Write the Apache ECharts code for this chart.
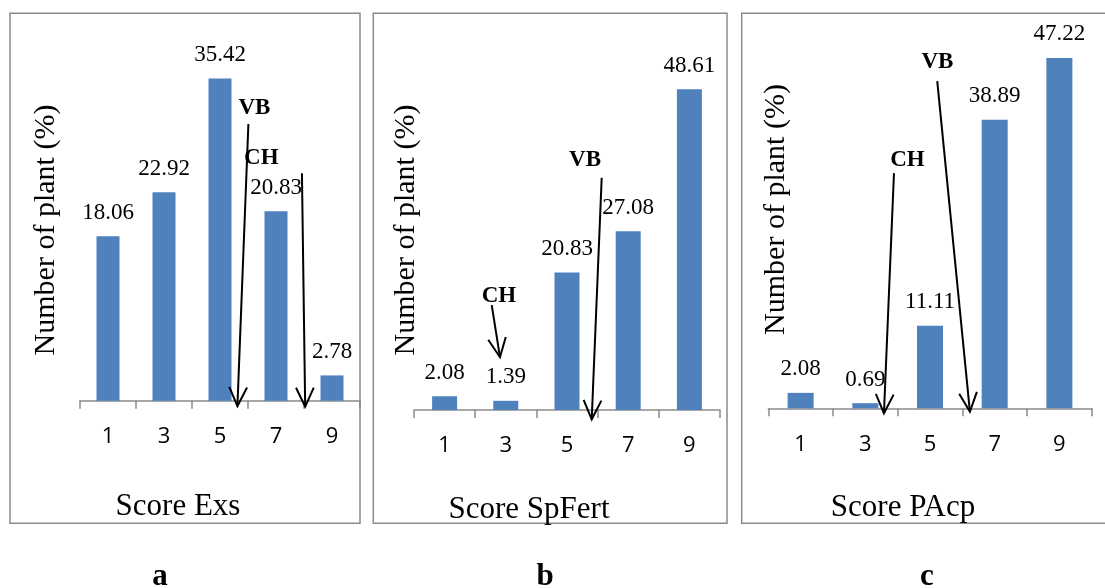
<!DOCTYPE html>
<html><head><meta charset="utf-8">
<script src="https://cdn.jsdelivr.net/npm/echarts@6/dist/echarts.min.js"></script>
<style>html,body{margin:0;padding:0;background:#fff}#c{width:1105px;height:588px}</style>
</head><body><div id="c"></div>
<script>
// ---- data ----
const categories = ['1', '3', '5', '7', '9'];
const exsValues = [18.06, 22.92, 35.42, 20.83, 2.78];
const spFertValues = [2.08, 1.39, 20.83, 27.08, 48.61];
const pAcpValues = [2.08, 0.69, 11.11, 38.89, 47.22];
const panelTitles = ['Score Exs', 'Score SpFert', 'Score PAcp'];
const panelLetters = ['a', 'b', 'c'];
const yTitle = 'Number of plant (%)';
// annotation arrows in data units (x = category index, y = %):
// [fromX, fromY, toX, toY, labelX, labelY]
const annExs = [
  { name: 'VB', value: [2.507, 30.4, 2.311, -0.6, 2.614, 32.2] },
  { name: 'CH', value: [3.463, 25.0, 3.521, -0.66, 2.738, 26.7] }
];
const annSpFert = [
  { name: 'VB', value: [2.567, 35.2, 2.404, -1.41, 2.294, 37.9] },
  { name: 'CH', value: [0.770, 15.9, 0.905, 8.0, 0.889, 17.3] }
];
const annPAcp = [
  { name: 'VB', value: [2.112, 44.1, 2.617, -0.46, 2.115, 46.7] },
  { name: 'CH', value: [1.443, 31.7, 1.288, -0.67, 1.651, 33.4] }
];

// ---- layout / style ----
const seriesValues = [exsValues, spFertValues, pAcpValues];
const annotations = [annExs, annSpFert, annPAcp];
const layout = [
  { left: 80, width: 280, top: 36.7, height: 364, max: 40, barWidth: 23,
    border: [10, 13.3, 350, 510], title: [178, 507], letter: [160, 577], yt: [46, 230] },
  { left: 414, width: 306, top: 80, height: 330, max: 50, barWidth: 25,
    border: [373.3, 13.3, 353.7, 510], title: [529, 510], letter: [545, 577], yt: [406, 230] },
  { left: 768.3, width: 323.4, top: 37.3, height: 371, max: 50, barWidth: 26,
    border: [741.7, 13.3, 400, 510], title: [903, 508], letter: [927, 577], yt: [776, 209.5] }
];
const BAR = '#4F81BD';
const GREY = '#8A8A8A';
const SERIF = '"Liberation Serif", "Times New Roman", serif';
const SANS = '"Open Sans", "Liberation Sans", sans-serif';

function arrowRender(anns) {
  return function (params, api) {
    const p0 = api.coord([api.value(0), api.value(1)]);
    const p1 = api.coord([api.value(2), api.value(3)]);
    const pt = api.coord([api.value(4), api.value(5)]);
    const dx = p1[0] - p0[0], dy = p1[1] - p0[1];
    const len = Math.sqrt(dx * dx + dy * dy);
    const ux = dx / len, uy = dy / len;
    const L = 21, th = 25 * Math.PI / 180;
    const arm = (s) => {
      const c = Math.cos(s * th), sn = Math.sin(s * th);
      const rx = ux * c - uy * sn, ry = ux * sn + uy * c;
      return [p1[0] - L * rx, p1[1] - L * ry];
    };
    const st = { stroke: '#000', lineWidth: 2, fill: null };
    return {
      type: 'group',
      children: [
        { type: 'line', shape: { x1: p0[0], y1: p0[1], x2: p1[0], y2: p1[1] }, style: st },
        { type: 'polyline', shape: { points: [arm(1), p1, arm(-1)] }, style: st },
        { type: 'text', x: pt[0], y: pt[1],
          style: { text: anns[params.dataIndex].name, font: 'bold 23px ' + SERIF, fill: '#000',
                   align: 'center', verticalAlign: 'middle' } }
      ]
    };
  };
}

const grid = [], xAxis = [], yAxis = [], series = [], graphic = [];
layout.forEach((L, i) => {
  grid.push({ left: L.left, top: L.top, width: L.width, height: L.height, containLabel: false });
  xAxis.push({
    type: 'category', gridIndex: i, data: categories,
    axisLine: { show: true, lineStyle: { color: GREY, width: 1.5 } },
    axisTick: { show: true, length: 8, alignWithLabel: false, lineStyle: { color: GREY, width: 1.5 } },
    axisLabel: { color: '#000', fontFamily: SANS, fontSize: 22, margin: 25 },
    splitLine: { show: false }
  });
  xAxis.push({ type: 'value', gridIndex: i, min: -0.5, max: 4.5, show: false });
  yAxis.push({ type: 'value', gridIndex: i, min: 0, max: L.max, show: false });
  series.push({
    type: 'bar', xAxisIndex: 2 * i, yAxisIndex: i,
    data: seriesValues[i], barWidth: L.barWidth,
    itemStyle: { color: BAR },
    label: { show: true, position: 'top', distance: 12, color: '#000',
             fontFamily: SERIF, fontSize: 23, formatter: (p) => p.value.toFixed(2) },
    silent: true, animation: false
  });
  series.push({
    type: 'custom', xAxisIndex: 2 * i + 1, yAxisIndex: i, clip: false,
    data: annotations[i], renderItem: arrowRender(annotations[i]),
    silent: true, animation: false, z: 10
  });
  const b = L.border;
  graphic.push({ type: 'rect', shape: { x: b[0], y: b[1], width: b[2], height: b[3] },
    style: { fill: null, stroke: GREY, lineWidth: 1.5 }, silent: true, z: -1 });
  graphic.push({ type: 'text', x: L.title[0], y: L.title[1],
    style: { text: panelTitles[i], font: '31px ' + SERIF, fill: '#000', align: 'center', verticalAlign: 'middle' } });
  graphic.push({ type: 'text', x: L.letter[0], y: L.letter[1],
    style: { text: panelLetters[i], font: 'bold 31px ' + SERIF, fill: '#000', align: 'center', verticalAlign: 'middle' } });
  graphic.push({ type: 'text', x: L.yt[0], y: L.yt[1], rotation: Math.PI / 2,
    style: { text: yTitle, font: '30px ' + SERIF, fill: '#000', align: 'center', verticalAlign: 'middle' } });
});

const chart = echarts.init(document.getElementById('c'), null, { renderer: 'canvas' });
chart.setOption({ animation: false, backgroundColor: '#fff', grid, xAxis, yAxis, series, graphic });
</script>
</body></html>
